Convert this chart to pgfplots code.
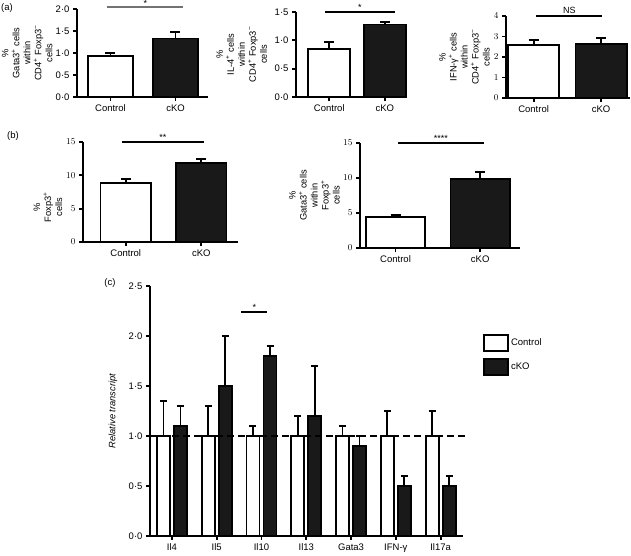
\documentclass[border=0pt]{standalone}
\usepackage{fontspec}
\setmainfont{Liberation Sans}
\usepackage{pgfplots}
\pgfplotsset{compat=1.18}

\pgfplotsset{
  panel/.style={
    scale only axis, anchor=south west, clip=false,
    axis x line=bottom, axis y line=left,
    axis line style={line width=1.8pt,-},
    tick style={black, line width=1.8pt},
    major tick length=4pt, tick align=outside,
    ymin=0, xtick={0,1}, xticklabels={Control,cKO},
    ticklabel style={font=\fontsize{9.5}{11}\selectfont},
    ylabel style={font=\fontsize{9.3}{11}\selectfont, align=center, anchor=center},
  },
  errb/.style={error bars/.cd, y dir=plus, y explicit,
    error bar style={line width=1.8pt, black},
    error mark options={rotate=90, mark size=#1, line width=1.8pt, black}},
  errb/.default=5pt,
  ctrl/.style={ybar, bar shift=0pt, draw=black, fill=white, line width=1.8pt},
  cko/.style={ybar, bar shift=0pt, draw=black, fill=black!90, line width=1.8pt},
  sig/.style={black, line width=1.2pt, no marks},
}
\tikzset{sigstar/.style={font=\fontsize{9}{10}\selectfont, inner sep=1pt}}

\begin{document}
\begin{tikzpicture}
\path[use as bounding box] (0pt,0pt) rectangle (631pt,556pt);

\node[font=\fontsize{9.5}{11}\selectfont] at (7pt,548pt) {(a)};
\node[font=\fontsize{9.5}{11}\selectfont] at (13pt,420pt) {(b)};
\node[font=\fontsize{9.5}{11}\selectfont] at (110pt,273pt) {(c)};

% (a) left
\begin{axis}[panel, at={(77pt,459pt)}, width=131pt, height=88pt,
  xmin=-0.515, xmax=1.5, ymax=2, bar width=0.69,
  ytick={0,0.5,1,1.5,2}, yticklabels={0·0,0·5,1·0,1·5,2·0},
  ylabel={\%\\Gata3\textsuperscript{+} cells\\within\\CD4\textsuperscript{+} Foxp3\textsuperscript{−}\\cells},
  ylabel style={at={(axis description cs:-0.38,0.5)}}]
\addplot[ctrl, errb] coordinates {(0,0.93) +- (0,0.07)};
\addplot[cko, errb] coordinates {(1,1.33) +- (0,0.15)};
\addplot[sig, black!55] coordinates {(-0.05,2.045) (1.12,2.045)}
  node[pos=0.5, above, sigstar, black, inner sep=0pt, yshift=-0.5pt] {*};
\end{axis}

% (a) middle
\begin{axis}[panel, at={(296pt,459pt)}, width=111pt, height=85pt,
  xmin=-0.6, xmax=1.4, ymax=1.5, bar width=0.76,
  ytick={0,0.5,1,1.5}, yticklabels={0·0,0·5,1·0,1·5},
  ylabel={\%\\IL-4\textsuperscript{+} cells\\within\\CD4\textsuperscript{+} Foxp3\textsuperscript{−}\\cells},
  ylabel style={at={(axis description cs:-0.49,0.5)}}]
\addplot[ctrl, errb] coordinates {(0,0.85) +- (0,0.12)};
\addplot[cko, errb] coordinates {(1,1.28) +- (0,0.04)};
\addplot[sig] coordinates {(-0.08,1.5) (1.18,1.5)}
  node[pos=0.5, above, sigstar] {*};
\end{axis}

% (a) right
\begin{axis}[panel, at={(506pt,458pt)}, width=124pt, height=82pt,
  xmin=-0.41, xmax=1.43, ymax=4, bar width=0.76,
  ytick={0,1,2,3,4},
  ylabel={\%\\IFN-γ\textsuperscript{+} cells\\within\\CD4\textsuperscript{+} Foxp3\textsuperscript{−}\\cells},
  ylabel style={at={(axis description cs:-0.336,0.5)}}]
\addplot[ctrl, errb] coordinates {(0,2.58) +- (0,0.25)};
\addplot[cko, errb] coordinates {(1,2.65) +- (0,0.27)};
\addplot[sig] coordinates {(0.04,4) (1.02,4)}
  node[pos=0.5, above, sigstar, yshift=1pt] {NS};
\end{axis}

% (b) left
\begin{axis}[panel, at={(83pt,314pt)}, width=155pt, height=100pt,
  xmin=-0.567, xmax=1.487, ymax=15, bar width=0.67,
  ytick={0,5,10,15},
  ylabel={\%\\Foxp3\textsuperscript{+}\\cells},
  ylabel style={at={(axis description cs:-0.226,0.35)}}]
\addplot[ctrl, errb] coordinates {(0,8.8) +- (0,0.6)};
\addplot[cko, errb] coordinates {(1,11.9) +- (0,0.5)};
\addplot[sig] coordinates {(-0.05,15) (1.03,15)}
  node[pos=0.5, above, sigstar] {**};
\end{axis}

% (b) right
\begin{axis}[panel, at={(360pt,308pt)}, width=160pt, height=105pt,
  xmin=-0.42, xmax=1.47, ymax=15, bar width=0.7,
  ytick={0,5,10,15},
  ylabel={\%\\Gata3\textsuperscript{+} cells\\within\\Foxp3\textsuperscript{+}\\cells},
  ylabel style={at={(axis description cs:-0.284,0.5)}}]
\addplot[ctrl, errb] coordinates {(0,4.4) +- (0,0.3)};
\addplot[cko, errb] coordinates {(1,9.9) +- (0,0.9)};
\addplot[sig] coordinates {(0.03,15) (1.04,15)}
  node[pos=0.5, above, sigstar] {****};
\end{axis}

% (c)  control bars sit at tick-0.19, cKO bars at tick+0.19
\begin{axis}[panel, at={(150pt,20pt)}, width=313pt, height=250pt,
  xmin=-0.49, xmax=6.5, ymax=2.5, bar width=0.29,
  xtick={0,...,6}, xticklabels={Il4,Il5,Il10,Il13,Gata3,IFN-γ,Il17a},
  ytick={0,0.5,1,1.5,2,2.5}, yticklabels={0·0,0·5,1·0,1·5,2·0,2·5},
  ylabel={\itshape Relative transcript},
  ylabel style={at={(axis description cs:-0.118,0.5)}},
  legend style={at={(axis description cs:1.064,0.808)}, anchor=north west,
    draw=none, fill=none, row sep=6pt, inner sep=0pt,
    font=\fontsize{9.5}{11}\selectfont, cells={anchor=west}},
  ]
\addplot[ctrl,
  legend image code/.code={\draw[black, fill=white, line width=1.8pt] (0pt,-8pt) rectangle (24pt,8pt);},
  errb=3.5pt]
  coordinates {(-0.19,1) +- (0,0.35) (0.81,1) +- (0,0.3) (1.81,1) +- (0,0.1) (2.81,1) +- (0,0.2)
               (3.81,1) +- (0,0.1) (4.81,1) +- (0,0.25) (5.81,1) +- (0,0.25)};
\addlegendentry{Control}
\addplot[cko,
  legend image code/.code={\draw[black, fill=black!90, line width=1.8pt] (0pt,-8pt) rectangle (24pt,8pt);},
  errb=3.5pt]
  coordinates {(0.19,1.1) +- (0,0.2) (1.19,1.5) +- (0,0.5) (2.19,1.8) +- (0,0.1) (3.19,1.2) +- (0,0.5)
               (4.19,0.9) +- (0,0.1) (5.19,0.5) +- (0,0.1) (6.19,0.5) +- (0,0.1)};
\addlegendentry{cKO}
\addplot[black, line width=1.8pt, dash pattern=on 7pt off 4pt, forget plot]
  coordinates {(-0.49,1) (6.55,1)};
\addplot[sig, line width=1.8pt, forget plot] coordinates {(1.55,2.24) (2.13,2.24)}
  node[pos=0.5, above, sigstar] {*};
\end{axis}
\end{tikzpicture}
\end{document}
